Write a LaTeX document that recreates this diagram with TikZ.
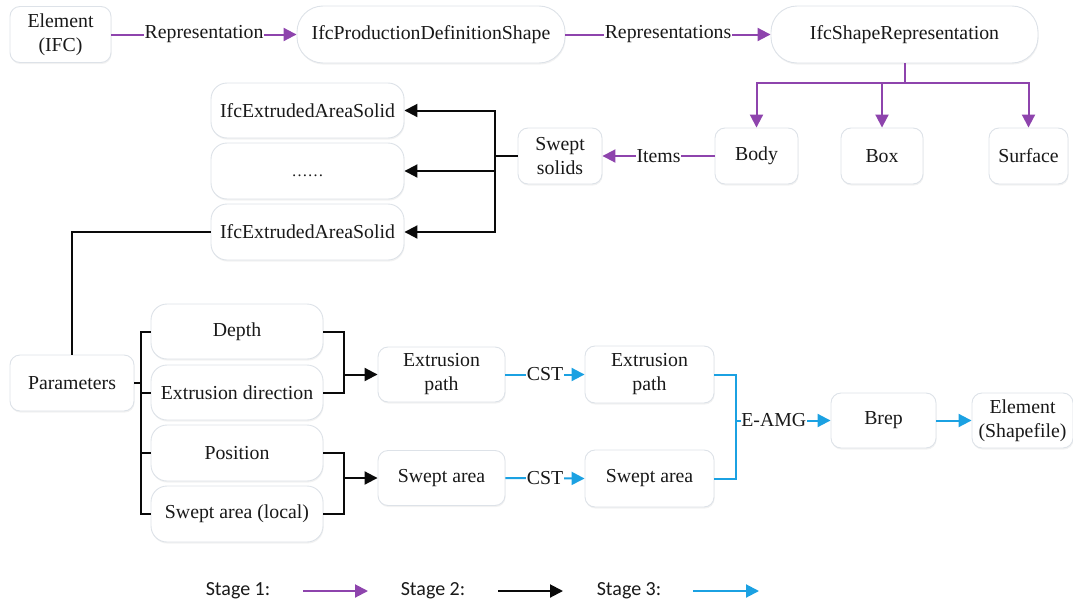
\documentclass[tikz,border=0pt]{standalone}
\usepackage{fontspec}
\setmainfont{Liberation Serif}
\newfontfamily\legendfont{Carlito}
\usetikzlibrary{arrows.meta,shadows}

\definecolor{stageone}{RGB}{142,68,173}
\definecolor{stagetwo}{RGB}{10,10,10}
\definecolor{stagethree}{RGB}{27,161,226}
\definecolor{boxline}{RGB}{221,226,232}
\definecolor{ink}{RGB}{25,25,25}

\tikzset{
  x=1pt, y=-1pt,
  >={Triangle[length=13pt,width=13pt]},
  card/.style={draw=boxline, line width=0.9pt, fill=white, text=ink,
    rounded corners=10pt, align=center, inner sep=0pt,
    font=\fontsize{19.8}{24}\selectfont,
    drop shadow={shadow xshift=0.6pt, shadow yshift=-1.6pt, opacity=0.10, fill=gray}},
  softcard/.style={card, rounded corners=16pt},
  pill/.style={card, rounded corners=26pt},
  lbl/.style={fill=white, inner sep=0.5pt, text=ink, font=\fontsize{19.8}{24}\selectfont},
  legendtext/.style={text=ink, font=\legendfont\fontsize{20}{24}\selectfont},
  purple/.style={draw=stageone, line width=2pt},
  black/.style={draw=stagetwo, line width=2pt},
  blue/.style={draw=stagethree, line width=2pt},
}

\begin{document}
\begin{tikzpicture}
\useasboundingbox (0,0) rectangle (1073,605);

% ---------- stage 1: IFC representation chain ----------
\node[card, minimum width=101pt, minimum height=56pt] (eifc) at (60.5,34.5) {Element\\(IFC)};
\node[pill, minimum width=268pt, minimum height=57pt] (pds) at (431,34.5) {IfcProductionDefinitionShape};
\node[pill, minimum width=267pt, minimum height=57pt] (isr) at (904.5,34.5) {IfcShapeRepresentation};

\node[card, minimum width=83pt, minimum height=56pt] (body) at (756.5,156) {Body};
\node[card, minimum width=82pt, minimum height=56pt] (boxn) at (882,156) {Box};
\node[card, minimum width=79pt, minimum height=56pt] (surf) at (1028.5,156) {Surface};

\node[card, minimum width=84pt, minimum height=56pt] (swept) at (560,156) {Swept\\solids};

\draw[purple,->] (eifc.east) -- node[lbl]{Representation} (pds.west);
\draw[purple,->] (pds.east) -- node[lbl]{Representations} (isr.west);

\coordinate (split) at (904.5,83);
\draw[purple] (isr.south) -- (split);
\draw[purple,->] (split) -| (body.north);
\draw[purple,->] (split) -| (boxn.north);
\draw[purple,->] (split) -| (surf.north);

\draw[purple,->] (body.west) -- node[lbl]{Items} (swept.east);

% ---------- stage 2: swept solids and their parameters ----------
\node[softcard, minimum width=193pt, minimum height=55pt] (eas1) at (307.5,110.5) {IfcExtrudedAreaSolid};
\node[softcard, minimum width=193pt, minimum height=56pt, text height=10pt, text depth=0pt] (dots) at (307.5,171) {\fontsize{16}{16}\selectfont ……};
\node[softcard, minimum width=193pt, minimum height=56pt] (eas2) at (307.5,232) {IfcExtrudedAreaSolid};

\coordinate (bus) at (495,156);
\draw[black] (swept.west) -- (bus);
\draw[black,->] (bus) |- (eas1.east);
\draw[black,->] (bus) |- (dots.east);
\draw[black,->] (bus) |- (eas2.east);

\node[card, minimum width=124pt, minimum height=56pt] (params) at (72,383) {Parameters};
\draw[black] (eas2.west) -| (params.north);

\node[softcard, minimum width=172pt, minimum height=55pt] (depth) at (237,331.5) {Depth};
\node[softcard, minimum width=172pt, minimum height=55pt] (edir) at (237,392.5) {Extrusion direction};
\node[softcard, minimum width=172pt, minimum height=56pt] (pos) at (237,453) {Position};
\node[softcard, minimum width=172pt, minimum height=56pt] (local) at (237,514) {Swept area (local)};

\coordinate (bracket) at (141,383);
\draw[black] (params.east) -- (bracket);
\draw[black] (bracket) |- (depth.west);
\draw[black] (bracket) |- (edir.west);
\draw[black] (bracket) |- (pos.west);
\draw[black] (bracket) |- (local.west);

\node[card, minimum width=127pt, minimum height=55pt] (ep1) at (441.5,374.5) {Extrusion\\path};
\node[card, minimum width=127pt, minimum height=55pt] (sa1) at (441.5,478) {Swept area};

\coordinate (joinA) at (344,374.5);
\coordinate (joinB) at (344,478);
\draw[black] (depth.east) -| (joinA);
\draw[black] (edir.east) -| (joinA);
\draw[black,->] (joinA) -- (ep1.west);
\draw[black] (pos.east) -| (joinB);
\draw[black] (local.east) -| (joinB);
\draw[black,->] (joinB) -- (sa1.west);

% ---------- stage 3: conversion to Brep ----------
\node[card, minimum width=129pt, minimum height=57pt] (ep2) at (649.5,374.5) {Extrusion\\path};
\node[card, minimum width=129pt, minimum height=57pt] (sa2) at (649.5,478.5) {Swept area};
\node[card, minimum width=105pt, minimum height=55pt] (brep) at (883.5,420.5) {Brep};
\node[card, minimum width=101pt, minimum height=55pt] (esf) at (1022.5,420.5) {Element\\(Shapefile)};

\draw[blue,->] (ep1.east) -- node[lbl]{CST} (ep2.west);
\draw[blue,->] (sa1.east) -- node[lbl]{CST} (sa2.west);

\coordinate (merge) at (736,420.5);
\draw[blue] (ep2.east) -| (merge);
\draw[blue] (sa2.east) -| (merge);
\draw[blue,->] (merge) -- node[lbl, pos=0.4]{E-AMG} (brep.west);
\draw[blue,->] (brep.east) -- (esf.west);

% ---------- legend ----------
\node[legendtext] (leg1) at (238,591) {Stage 1:};
\node[legendtext] (leg2) at (433,591) {Stage 2:};
\node[legendtext] (leg3) at (629,591) {Stage 3:};
\coordinate (l1a) at (303,591); \coordinate (l1b) at (368,591);
\coordinate (l2a) at (498,591); \coordinate (l2b) at (563,591);
\coordinate (l3a) at (693,591); \coordinate (l3b) at (759,591);
\draw[purple,->] (l1a) -- (l1b);
\draw[black,->] (l2a) -- (l2b);
\draw[blue,->] (l3a) -- (l3b);
\end{tikzpicture}
\end{document}
